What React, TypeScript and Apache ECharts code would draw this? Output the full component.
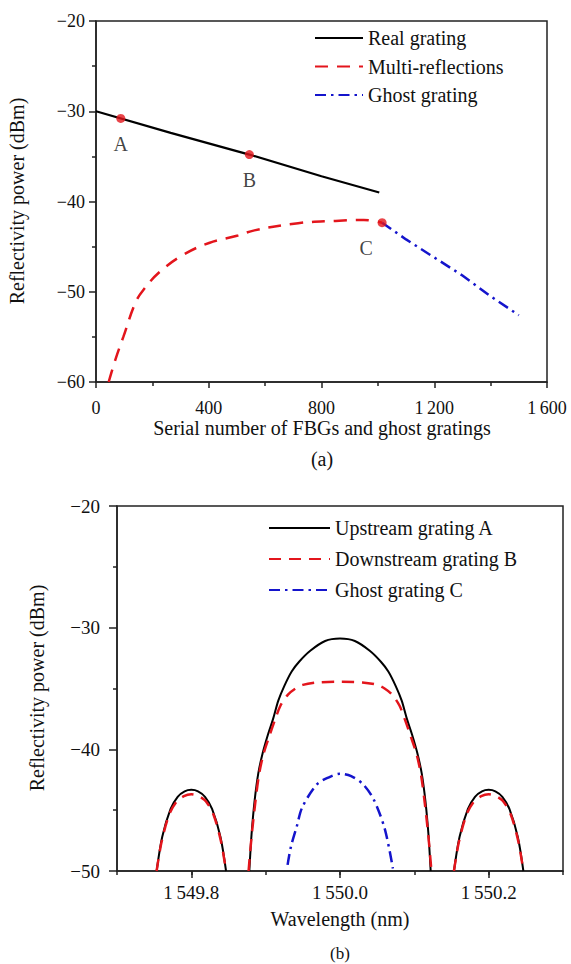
import React, { useEffect, useRef } from 'react';
import * as echarts from 'echarts';

const FONT = "'Liberation Serif', 'Times New Roman', serif";
const TXT = '#111';
const RED = '#e3151c';
const BLUE = '#1414cc';
const NOFILL = 'rgba(0,0,0,0)';

// ---------- (a) ----------
const realGratingX = [0, 265, 544, 800, 1005];
const realGratingY = [-30, -32.4, -34.8, -37.2, -39];

const multiReflX = [45, 70, 97, 140, 168, 226, 310, 401, 500, 562, 717, 850, 950, 1015];
const multiReflY = [-60, -57.4, -55, -51.2, -49.8, -47.8, -45.9, -44.6, -43.8, -43.2, -42.4, -42.15, -42.05, -42.35];

const ghostX = [1015, 1100, 1200, 1300, 1400, 1500];
const ghostY = [-42.35, -44.2, -46.2, -48.2, -50.5, -52.6];

const markerNames = ['A', 'B', 'C'];
const markerX = [88, 544, 1015];
const markerY = [-30.8, -34.8, -42.35];

const legendA = ['Real grating', 'Multi-reflections', 'Ghost grating'];

// ---------- (b) ----------
const upMainX = [1549.878, 1549.881, 1549.885, 1549.89, 1549.896, 1549.903, 1549.91, 1549.917, 1549.925, 1549.935, 1549.945, 1549.96, 1549.98, 1550.0, 1550.02, 1550.04, 1550.055, 1550.065, 1550.075, 1550.083, 1550.09, 1550.097, 1550.104, 1550.11, 1550.115, 1550.119, 1550.122];
const upMainY = [-50, -47, -44.3, -42, -40.3, -38.8, -37.5, -36, -34.8, -33.6, -32.8, -31.9, -31.1, -30.9, -31.1, -31.9, -32.8, -33.6, -34.8, -36, -37.5, -38.8, -40.3, -42, -44.3, -47, -50];

const upLeftX = [1549.7533, 1549.7608, 1549.7721, 1549.7816, 1549.791, 1549.8, 1549.809, 1549.8184, 1549.8279, 1549.8392, 1549.8467];
const upLeftY = [-50, -47.2, -44.9, -43.9, -43.45, -43.33, -43.45, -43.9, -44.9, -47.2, -50];
const upRightX = [1550.1533, 1550.1608, 1550.1721, 1550.1816, 1550.191, 1550.2, 1550.209, 1550.2184, 1550.2279, 1550.2392, 1550.2467];
const upRightY = [-50, -47.2, -44.9, -43.9, -43.45, -43.33, -43.45, -43.9, -44.9, -47.2, -50];

const downMainX = [1549.877, 1549.881, 1549.886, 1549.891, 1549.897, 1549.905, 1549.913, 1549.92, 1549.93, 1549.94, 1549.95, 1549.97, 1550.0, 1550.03, 1550.05, 1550.06, 1550.07, 1550.08, 1550.087, 1550.095, 1550.103, 1550.109, 1550.114, 1550.119, 1550.123];
const downMainY = [-50, -47.2, -44.4, -42.1, -40.4, -38.9, -37.5, -36.4, -35.5, -35.0, -34.7, -34.5, -34.45, -34.5, -34.7, -35.0, -35.5, -36.4, -37.5, -38.9, -40.4, -42.1, -44.4, -47.2, -50];

const downLeftX = [1549.7533, 1549.76, 1549.77, 1549.78, 1549.79, 1549.8, 1549.81, 1549.82, 1549.83, 1549.84, 1549.8467];
const downLeftY = [-50, -47.6, -45.4, -44.3, -43.85, -43.7, -43.85, -44.3, -45.4, -47.6, -50];
const downRightX = [1550.1533, 1550.16, 1550.17, 1550.18, 1550.19, 1550.2, 1550.21, 1550.22, 1550.23, 1550.24, 1550.2467];
const downRightY = [-50, -47.6, -45.4, -44.3, -43.85, -43.7, -43.85, -44.3, -45.4, -47.6, -50];

const ghostCX = [1549.9295, 1549.934, 1549.942, 1549.949, 1549.9685, 1549.985, 1550.0, 1550.015, 1550.0315, 1550.046, 1550.0605, 1550.0712];
const ghostCY = [-49.5, -48.0, -46.3, -44.8, -42.9, -42.3, -42.0, -42.2, -42.9, -44.2, -46.6, -49.8];

const legendB = ['Upstream grating A', 'Downstream grating B', 'Ghost grating C'];

// wavelength axis: full range and labelled range
const waveMin = 1549.7;
const waveMax = 1550.3;
const waveLabelMin = 1549.8;
const waveLabelMax = 1550.2;

const pairs = (xs: number[], ys: number[]) => xs.map((x, i) => [x, ys[i]]);
const minusFmt = (v: number) => (v < 0 ? '\u2212' + Math.abs(v) : String(v));
const thouFmt = (v: number) => (v >= 1000 ? String(v).replace(/^(\d)/, '$1\u2009') : String(v));
const waveFmt = (v: number) => v.toFixed(1).replace(/^(\d)/, '$1\u2009');

const axisLine = { show: true, lineStyle: { color: '#222', width: 1.5 } };
const tickLine = { color: '#222', width: 1.5 };

// grid (b) geometry
const gbLeft = 117;
const gbWidth = 446;
const pxPerNm = gbWidth / (waveMax - waveMin);

function buildOption() {
  const lineBase = { type: 'line', symbol: 'none', animation: false };
  return {
    animation: false,
    backgroundColor: '#fff',
    textStyle: { fontFamily: FONT, color: TXT },
    grid: [
      { left: 96, top: 21, width: 451, height: 361, show: true, borderColor: '#222', borderWidth: 1.5, backgroundColor: 'transparent' },
      { left: gbLeft, top: 506, width: gbWidth, height: 365, show: true, borderColor: '#222', borderWidth: 1.5, backgroundColor: 'transparent' },
      {
        left: gbLeft + (waveLabelMin - waveMin) * pxPerNm, top: 506,
        width: (waveLabelMax - waveLabelMin) * pxPerNm, height: 365, show: false,
      },
    ],
    xAxis: [
      {
        type: 'value', gridIndex: 0, min: 0, max: 1600, interval: 400,
        axisLine, axisTick: { show: true, length: 6, lineStyle: tickLine },
        minorTick: { show: true, splitNumber: 2, length: 4, lineStyle: tickLine },
        splitLine: { show: false },
        axisLabel: { margin: 17, fontSize: 18, fontFamily: FONT, color: TXT, formatter: thouFmt },
      },
      {
        type: 'value', gridIndex: 1, min: waveMin, max: waveMax, interval: 0.1,
        axisLine, axisTick: { show: true, length: 4, lineStyle: tickLine },
        splitLine: { show: false }, axisLabel: { show: false },
      },
      {
        type: 'value', gridIndex: 2, min: waveLabelMin, max: waveLabelMax, interval: 0.2,
        axisLine: { show: false }, axisTick: { show: true, length: 7, lineStyle: tickLine },
        splitLine: { show: false },
        axisLabel: { margin: 12, fontSize: 19, fontFamily: FONT, color: TXT, formatter: waveFmt },
      },
    ],
    yAxis: [
      {
        type: 'value', gridIndex: 0, min: -60, max: -20, interval: 10,
        axisLine, axisTick: { show: true, length: 7, lineStyle: tickLine },
        minorTick: { show: true, splitNumber: 2, length: 4, lineStyle: tickLine },
        splitLine: { show: false },
        axisLabel: { margin: 11, fontSize: 18, fontFamily: FONT, color: TXT, formatter: minusFmt },
      },
      {
        type: 'value', gridIndex: 1, min: -50, max: -20, interval: 10,
        axisLine, axisTick: { show: true, length: 8, lineStyle: tickLine },
        minorTick: { show: true, splitNumber: 2, length: 4, lineStyle: tickLine },
        splitLine: { show: false },
        axisLabel: { margin: 17, fontSize: 19, fontFamily: FONT, color: TXT, formatter: minusFmt },
      },
      { type: 'value', gridIndex: 2, min: -50, max: -20, show: false },
    ],
    legend: [
      {
        data: legendA, orient: 'vertical', left: 314, top: 27, padding: 0, itemWidth: 48, itemHeight: 14, itemGap: 6.5,
        textStyle: { fontFamily: FONT, fontSize: 20, color: TXT, lineHeight: 22 },
      },
      {
        data: legendB, orient: 'vertical', left: 268, top: 517, padding: 0, itemWidth: 61, itemHeight: 14, itemGap: 9,
        textStyle: { fontFamily: FONT, fontSize: 20, color: TXT, lineHeight: 22 },
      },
    ],
    series: [
      { ...lineBase, name: 'Real grating', xAxisIndex: 0, yAxisIndex: 0, data: pairs(realGratingX, realGratingY), lineStyle: { color: '#000', width: 2.2 }, itemStyle: { color: NOFILL } },
      { ...lineBase, name: 'Multi-reflections', xAxisIndex: 0, yAxisIndex: 0, smooth: 0.4, data: pairs(multiReflX, multiReflY), lineStyle: { color: RED, width: 2.5, type: [13, 9] }, itemStyle: { color: NOFILL } },
      { ...lineBase, name: 'Ghost grating', xAxisIndex: 0, yAxisIndex: 0, data: pairs(ghostX, ghostY), lineStyle: { color: BLUE, width: 2.5, type: [11, 5, 2.5, 5] }, itemStyle: { color: NOFILL } },
      {
        type: 'scatter', name: 'points', xAxisIndex: 0, yAxisIndex: 0, symbolSize: 9, itemStyle: { color: RED }, z: 5,
        label: { show: true, position: 'bottom', distance: 11, formatter: '{b}', fontFamily: FONT, fontSize: 20, color: TXT },
        data: markerNames.map((n, i) => ({ name: n, value: [markerX[i], markerY[i]], label: i === 2 ? { offset: [-16, 0] } : {} })),
      },
      { ...lineBase, name: 'Upstream grating A', xAxisIndex: 1, yAxisIndex: 1, smooth: 0.3, data: pairs(upMainX, upMainY), lineStyle: { color: '#000', width: 2 }, itemStyle: { color: NOFILL } },
      { ...lineBase, name: 'Upstream grating A', xAxisIndex: 1, yAxisIndex: 1, smooth: 0.3, data: pairs(upLeftX, upLeftY), lineStyle: { color: '#000', width: 2 }, itemStyle: { color: NOFILL } },
      { ...lineBase, name: 'Upstream grating A', xAxisIndex: 1, yAxisIndex: 1, smooth: 0.3, data: pairs(upRightX, upRightY), lineStyle: { color: '#000', width: 2 }, itemStyle: { color: NOFILL } },
      { ...lineBase, name: 'Downstream grating B', xAxisIndex: 1, yAxisIndex: 1, smooth: 0.3, data: pairs(downMainX, downMainY), lineStyle: { color: RED, width: 2.5, type: [12, 8] }, itemStyle: { color: NOFILL } },
      { ...lineBase, name: 'Downstream grating B', xAxisIndex: 1, yAxisIndex: 1, smooth: 0.3, data: pairs(downLeftX, downLeftY), lineStyle: { color: RED, width: 2.5, type: [12, 8] }, itemStyle: { color: NOFILL } },
      { ...lineBase, name: 'Downstream grating B', xAxisIndex: 1, yAxisIndex: 1, smooth: 0.3, data: pairs(downRightX, downRightY), lineStyle: { color: RED, width: 2.5, type: [12, 8] }, itemStyle: { color: NOFILL } },
      { ...lineBase, name: 'Ghost grating C', xAxisIndex: 1, yAxisIndex: 1, smooth: 0.3, data: pairs(ghostCX, ghostCY), lineStyle: { color: BLUE, width: 2.5, type: [11, 5, 2.5, 5] }, itemStyle: { color: NOFILL } },
    ],
    graphic: [
      { type: 'text', x: 17, y: 201, rotation: Math.PI / 2, style: { text: 'Reflectivity power (dBm)', font: `20px ${FONT}`, fill: TXT, align: 'center', verticalAlign: 'middle' } },
      { type: 'text', x: 322, y: 428, style: { text: 'Serial number of FBGs and ghost gratings', font: `20px ${FONT}`, fill: TXT, align: 'center', verticalAlign: 'middle' } },
      { type: 'text', x: 322, y: 459, style: { text: '(a)', font: `20px ${FONT}`, fill: TXT, align: 'center', verticalAlign: 'middle' } },
      { type: 'text', x: 37, y: 688, rotation: Math.PI / 2, style: { text: 'Reflectivity power (dBm)', font: `20px ${FONT}`, fill: TXT, align: 'center', verticalAlign: 'middle' } },
      { type: 'text', x: 340, y: 919, style: { text: 'Wavelength (nm)', font: `20px ${FONT}`, fill: TXT, align: 'center', verticalAlign: 'middle' } },
      { type: 'text', x: 340, y: 953, style: { text: '(b)', font: `17px ${FONT}`, fill: TXT, align: 'center', verticalAlign: 'middle' } },
    ],
  };
}

export default function App() {
  const ref = useRef<HTMLDivElement>(null);
  useEffect(() => {
    if (!ref.current) return;
    const chart = echarts.init(ref.current, undefined, { renderer: 'svg' });
    chart.setOption(buildOption() as any);
    return () => chart.dispose();
  }, []);
  return (
    <div
      ref={ref}
      style={{ position: 'absolute', left: 0, top: 0, width: 571, height: 964, background: '#fff' }}
    />
  );
}
